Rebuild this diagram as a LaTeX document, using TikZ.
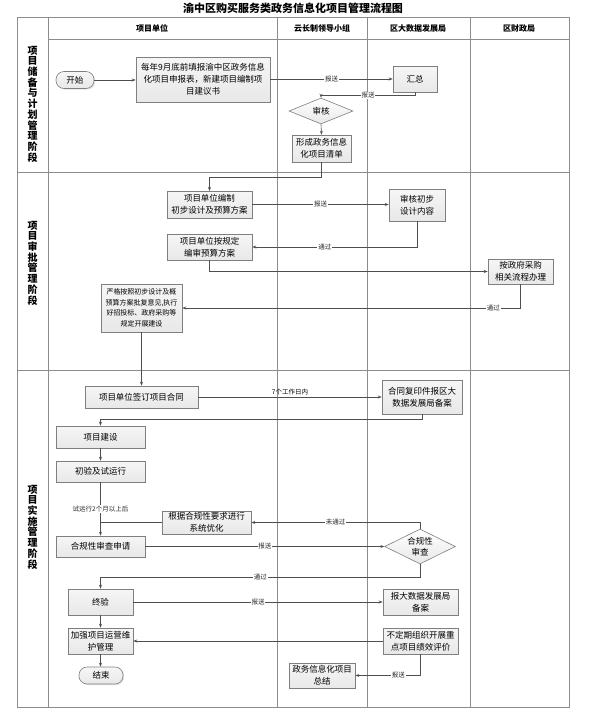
\documentclass[tikz,border=0pt]{standalone}
\usepackage{fontspec}
\setmainfont{Noto Sans CJK SC}
\usepackage{xcolor}
\usepackage{tikz}
\usetikzlibrary{positioning,arrows.meta,shapes.geometric,shadows,calc}
\definecolor{laneline}{HTML}{8C8C8C}
\definecolor{wire}{HTML}{4F4F4F}
\definecolor{boxedge}{HTML}{7F7F7F}
\definecolor{boxfill}{HTML}{E8E8E8}
\tikzset{
  proc/.style={rectangle, draw=boxedge, top color=white!60!boxfill, bottom color=boxfill,
               line width=0.6pt, align=center, inner sep=1pt,
               font=\fontsize{8.5}{12}\selectfont,
               drop shadow={shadow xshift=1.2pt, shadow yshift=-1.2pt, fill=black!22}},
  term/.style={proc, rounded corners=8pt},
  chk/.style={diamond, aspect=2.4, draw=boxedge, top color=white, bottom color=boxfill,
              line width=0.6pt, align=center, inner sep=0pt,
              font=\fontsize{8.5}{11}\selectfont},
  arr/.style={-{Stealth[length=4pt,width=3pt]}, line width=0.6pt, draw=wire},
  plainwire/.style={line width=0.6pt, draw=wire},
  lbl/.style={font=\fontsize{6.5}{8}\selectfont, fill=white, inner sep=0.8pt, text=black!85},
  lane/.style={draw=laneline, line width=0.7pt},
  hdr/.style={font=\fontsize{8}{10}\selectfont\bfseries},
  phase/.style={align=center, font=\fontsize{10}{10.7}\selectfont\bfseries},
}

\begin{document}
\begin{tikzpicture}[x=1pt,y=-1pt]
  \useasboundingbox (0,0) rectangle (589,724);

  % title and lanes
  \node[font=\fontsize{11}{13}\selectfont\bfseries] (title) at (293,8) {渝中区购买服务类政务信息化项目管理流程图};
  \draw[lane] (17,17) rectangle (569,707);
  \draw[lane] (48,39) -- (569,39);
  \draw[lane] (17,172) -- (569,172);
  \draw[lane] (17,370) -- (569,370);
  \foreach \x in {48,277,367,470}
    \draw[lane] (\x,17) -- (\x,707);

  \node[hdr] (hUnit) at (152,28) {项目单位};
  \node[hdr] (hLead) at (322,28) {云长制领导小组};
  \node[hdr] (hData) at (418,28) {区大数据发展局};
  \node[hdr] (hFin)  at (519,28) {区财政局};

  \node[phase] (pPlan)  at (32.5,104) {项\\目\\储\\备\\与\\计\\划\\管\\理\\阶\\段};
  \node[phase] (pAppr)  at (32.5,263) {项\\目\\审\\批\\管\\理\\阶\\段};
  \node[phase] (pImpl)  at (32.5,527) {项\\目\\实\\施\\管\\理\\阶\\段};

  % phase 1
  \node[term, minimum width=38pt, minimum height=17pt] (start) at (75,80) {开始};
  \node[proc, minimum width=134pt, minimum height=45pt] (apply) at (203,79.5)
    {每年9月底前填报渝中区政务信息\\化项目申报表，新建项目编制项\\目建议书};
  \node[proc, minimum width=44pt, minimum height=26pt] (sumup) at (415,79) {汇总};
  \node[chk, minimum width=64pt, minimum height=26pt] (review) at (321,111) {审核};
  \node[proc, minimum width=59pt, minimum height=27pt] (plist) at (321.5,148.5) {形成政务信息\\化项目清单};

  \draw[arr] (start.east) -- (start.east -| apply.west);
  \draw[arr] (apply.east |- sumup.west) -- node[lbl]{报送} (sumup.west);
  \draw[arr] (sumup.south) -- ++(0,3) -| node[lbl,pos=0.25]{报送} (review.north);
  \draw[arr] (review.south) -- (plist.north);
  \draw[arr] (plist.south) -- ++(0,15) -| (209.5,191);

  % phase 2
  \node[proc, minimum width=85pt, minimum height=27pt] (draft) at (209.5,204.5) {项目单位编制\\初步设计及预算方案};
  \node[proc, minimum width=56pt, minimum height=32pt] (prelim) at (417,205) {审核初步\\设计内容};
  \node[proc, minimum width=85pt, minimum height=26pt] (budget) at (209.5,247) {项目单位按规定\\编审预算方案};
  \node[proc, minimum width=65pt, minimum height=25pt] (procure) at (520.5,271.5) {按政府采购\\相关流程办理};
  \node[proc, minimum width=81pt, minimum height=48pt, font=\fontsize{7}{10.5}\selectfont] (build) at (141.5,308)
    {严格按照初步设计及概\\预算方案批复意见,执行\\好招投标、政府采购等\\规定开展建设};

  \draw[arr] (draft.east) -- node[lbl]{报送} (draft.east -| prelim.west);
  \draw[arr] (prelim.south) |- node[lbl,pos=0.78]{通过} (budget.east);
  \draw[arr] (budget.south) |- (procure.west);
  \draw[arr] (procure.south) |- node[lbl,pos=0.54]{通过} (build.east);

  % phase 3
  \node[proc, minimum width=113pt, minimum height=22pt] (sign) at (141.5,397) {项目单位签订项目合同};
  \node[proc, minimum width=80pt, minimum height=34pt] (filing) at (422,397) {合同复印件报区大\\数据发展局备案};
  \node[proc, minimum width=89pt, minimum height=22pt] (constr) at (100.5,437) {项目建设};
  \node[proc, minimum width=89pt, minimum height=21pt] (trial) at (100.5,471.5) {初验及试运行};
  \node[proc, minimum width=89pt, minimum height=23pt] (optim) at (206.5,522.5) {根据合规性要求进行\\系统优化};
  \node[proc, minimum width=89pt, minimum height=21pt] (compreq) at (100.5,546.5) {合规性审查申请};
  \node[chk, minimum width=62pt, minimum height=35pt] (compchk) at (420,546.5) {合规性\\审查};
  \node[proc, minimum width=65pt, minimum height=26pt] (final) at (100.5,602) {终验};
  \node[proc, minimum width=75pt, minimum height=26pt] (report) at (420.5,602) {报大数据发展局\\备案};
  \node[proc, minimum width=65pt, minimum height=26pt] (maint) at (100.5,641) {加强项目运营维\\护管理};
  \node[proc, minimum width=75pt, minimum height=26pt] (evalu) at (420.5,641) {不定期组织开展重\\点项目绩效评价};
  \node[term, minimum width=44pt, minimum height=17pt] (stop) at (101,675.5) {结束};
  \node[proc, minimum width=66pt, minimum height=25pt] (summ) at (322,675.5) {政务信息化项目\\总结};

  \draw[arr] (build.south) -- (sign.north);
  \draw[arr] (sign.east) -- node[above,font=\fontsize{6.5}{8}\selectfont,inner sep=1.5pt]{7个工作日内} (sign.east -| filing.west);
  \draw[arr] (filing.south) -- ++(0,5) -| (constr.north);
  \draw[arr] (constr.south) -- (trial.north);
  \draw[arr] (trial.south) -- node[lbl]{试运行2个月以上后} (trial.south |- compreq.north);
  \draw[arr] (compchk.north) |- node[lbl,pos=0.75]{未通过} (optim.east);
  \draw[plainwire] (optim.west) -- (optim.west -| trial.south);
  \draw[arr] (compreq.east) -- node[lbl]{报送} (compreq.east -| compchk.west);
  \draw[arr] (compchk.south) -- ++(0,13) -| node[lbl,pos=0.25]{通过} (final.north);
  \draw[arr] (final.east) -- node[lbl]{报送} (final.east -| report.west);
  \draw[arr] (final.south) -- (maint.north);
  \draw[arr] (evalu.west) -- (evalu.west -| maint.east);
  \draw[arr] (maint.south) -- (maint.south |- stop.north);
  \draw[arr] (evalu.south) |- node[lbl,pos=0.67]{报送} (summ.east);
\end{tikzpicture}
\end{document}
